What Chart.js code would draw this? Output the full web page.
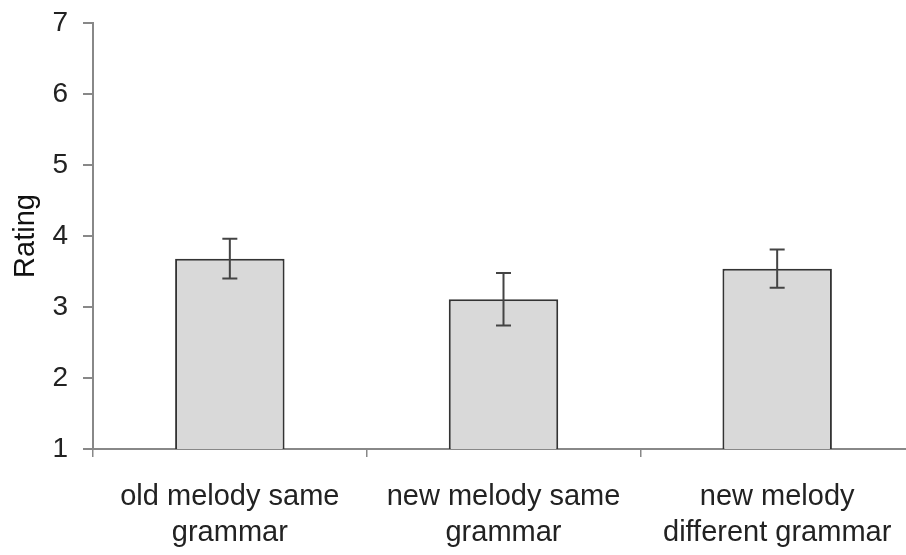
<!DOCTYPE html>
<html>
<head>
<meta charset="utf-8">
<script src="https://cdn.jsdelivr.net/npm/chart.js@4/dist/chart.umd.min.js"></script>
<style>
  html, body { margin: 0; padding: 0; background: #ffffff; overflow: hidden; }
  #wrap { position: relative; width: 914px; height: 555px; }
</style>
</head>
<body>
<div id="wrap"><canvas id="c"></canvas></div>
<script>
const categories = [
  ["old melody same", "grammar"],
  ["new melody same", "grammar"],
  ["new melody", "different grammar"]
];
const meanRatings = [3.68, 3.11, 3.54];
const errorSizes = [0.28, 0.37, 0.27];
const yAxisTitle = "Rating";
const yMin = 1, yMax = 7, yStep = 1;

const FONT = "'Liberation Sans', Arial, 'DejaVu Sans', sans-serif";

const errorBarPlugin = {
  id: 'errorBars',
  afterDatasetsDraw(chart) {
    const ctx = chart.ctx;
    const meta = chart.getDatasetMeta(0);
    const y = chart.scales.y;
    ctx.save();
    ctx.strokeStyle = '#444444';
    ctx.lineWidth = 2;
    meta.data.forEach((bar, i) => {
      const m = meanRatings[i], e = errorSizes[i];
      const yt = y.getPixelForValue(m + e);
      const yb = y.getPixelForValue(m - e);
      const x = bar.x;
      const cap = 7.5;
      ctx.beginPath();
      ctx.moveTo(x, yt); ctx.lineTo(x, yb);
      ctx.moveTo(x - cap, yt); ctx.lineTo(x + cap, yt);
      ctx.moveTo(x - cap, yb); ctx.lineTo(x + cap, yb);
      ctx.stroke();
    });
    ctx.restore();
  }
};

new Chart(document.getElementById('c'), {
  type: 'bar',
  data: {
    labels: categories,
    datasets: [{
      data: meanRatings,
      backgroundColor: '#d9d9d9',
      borderColor: '#333333',
      borderWidth: 2,
      borderSkipped: false,
      barPercentage: 0.4,
      categoryPercentage: 1.0
    }]
  },
  options: {
    responsive: true,
    maintainAspectRatio: false,
    animation: false,
    layout: { padding: { top: 23, right: 0, bottom: 0, left: 0 } },
    plugins: { legend: { display: false }, tooltip: { enabled: false } },
    scales: {
      x: {
        grid: { drawOnChartArea: false, drawTicks: true, tickLength: 8, color: '#888888', lineWidth: 1.5, offset: true },
        border: { display: true, color: '#888888', width: 2 },
        ticks: { color: '#222222', font: { family: FONT, size: 29, lineHeight: 1.25 }, padding: 22, maxRotation: 0, autoSkip: false },
        afterFit(scale) { scale.height = 106; scale.paddingLeft = 0; scale.paddingRight = 0; }
      },
      y: {
        min: yMin, max: yMax,
        grid: { drawOnChartArea: false, drawTicks: true, tickLength: 10, color: '#888888', lineWidth: 2 },
        border: { display: true, color: '#888888', width: 2 },
        ticks: { stepSize: yStep, color: '#222222', font: { family: FONT, size: 28 }, padding: 15 },
        title: { display: true, text: yAxisTitle, color: '#111111', font: { family: FONT, size: 29 }, padding: { top: 9, bottom: 0 } },
        afterFit(scale) { scale.width = 93; scale.paddingTop = 0; scale.paddingBottom = 0; }
      }
    }
  },
  plugins: [errorBarPlugin]
});
</script>
</body>
</html>
